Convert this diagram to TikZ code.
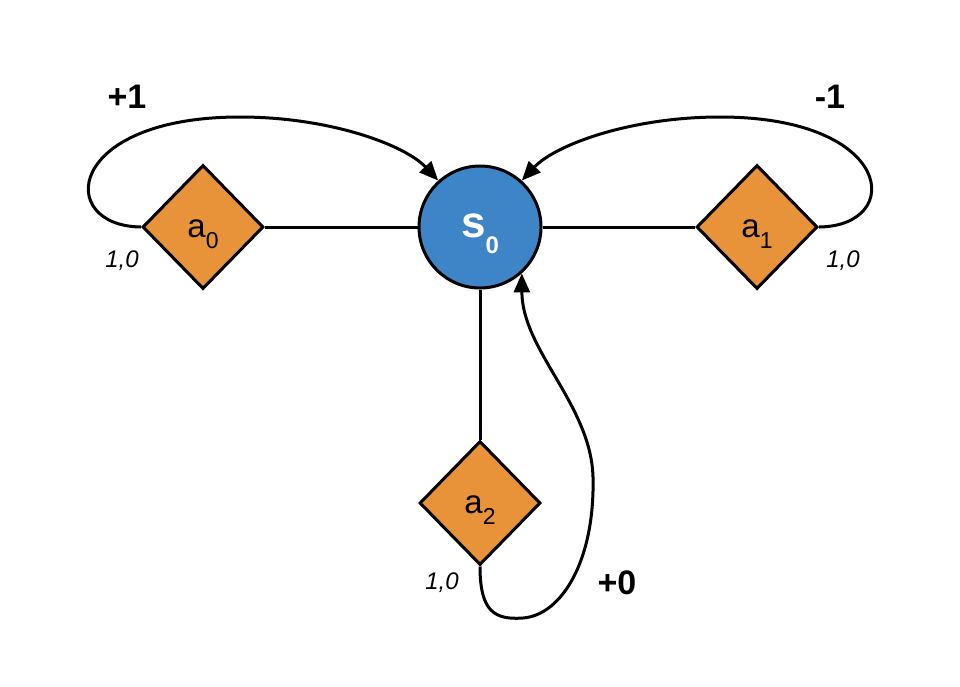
\documentclass[tikz,border=0pt]{standalone}
\usepackage{fontspec}
\setmainfont{Liberation Sans}
\usetikzlibrary{shapes.geometric,arrows.meta}
\definecolor{sblue}{RGB}{61,133,198}
\definecolor{aorange}{RGB}{232,146,58}
\begin{document}
\begin{tikzpicture}[x=1pt,y=-1pt,
  state/.style={circle,draw=black,line width=3pt,fill=sblue,minimum size=122pt,inner sep=0pt,text=white,font=\fontsize{44}{44}\selectfont\bfseries,text height=30pt,text depth=10pt},
  action/.style={diamond,draw=black,line width=3pt,fill=aorange,minimum width=121pt,minimum height=124pt,inner sep=0pt,font=\fontsize{33}{33}\selectfont,text height=30pt,text depth=10pt},
  link/.style={line width=3pt},
  arr/.style={line width=3pt,-{Triangle[length=19pt,width=16pt]}},
  rew/.style={font=\fontsize{34}{34}\selectfont\bfseries},
  prob/.style={font=\fontsize{24}{24}\selectfont\itshape}]
\useasboundingbox[fill=white] (0,0) rectangle (960,686);
% nodes
\node[state] (s) at (480,227) {s\raisebox{-16pt}{\fontsize{24}{24}\selectfont 0}};
\node[action] (a0) at (203,227) {a\raisebox{-11pt}{\fontsize{23}{23}\selectfont 0}};
\node[action] (a1) at (757,227) {a\raisebox{-11pt}{\fontsize{23}{23}\selectfont 1}};
\node[action] (a2) at (480,503) {a\raisebox{-11pt}{\fontsize{23}{23}\selectfont 2}};
% links
\draw[link] (a0.east) -- (s.west);
\draw[link] (s.east) -- (a1.west);
\draw[link] (s.south) -- (a2.north);
% loops
\draw[arr] (a0.west) .. controls (55,226) and (65,117) .. (240,117)
  .. controls (330,117) and (405,145) .. (s.132);
\draw[arr] (a1.east) .. controls (905,226) and (895,117) .. (720,117)
  .. controls (630,117) and (555,145) .. (s.48);
\draw[arr] (a2.south) .. controls (480,612) and (495,620) .. (523,618)
  .. controls (562,615) and (595,560) .. (593,477)
  .. controls (591,405) and (522,350) .. (s.-48);
% labels
\node[rew] (r0) at (127,97) {+1};
\node[rew] (r1) at (830,97) {-1};
\node[rew] (r2) at (617,583) {+0};
\node[prob] (p0) at (122,261) {1,0};
\node[prob] (p1) at (843,261) {1,0};
\node[prob] (p2) at (442,583) {1,0};
\end{tikzpicture}
\end{document}
